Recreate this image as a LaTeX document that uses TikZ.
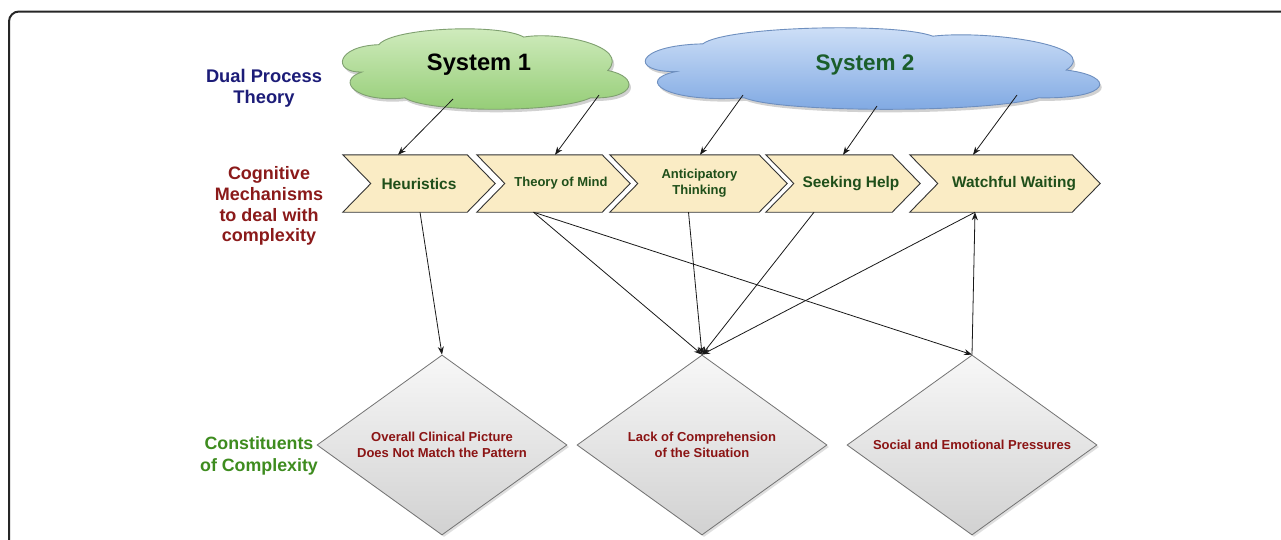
\documentclass[tikz,border=0pt]{standalone}
\usepackage{fontspec}
\setmainfont{Liberation Sans}
\usetikzlibrary{arrows.meta,shapes.geometric,shadows}
\definecolor{navyc}{HTML}{1C1C78}
\definecolor{dredc}{HTML}{8B1A1A}
\definecolor{greenc}{HTML}{3E8C1F}
\definecolor{chevtxt}{HTML}{1F4F1A}
\definecolor{diatxt}{HTML}{8B1414}
\definecolor{sys2txt}{HTML}{1B5E2B}
\definecolor{chevfill}{HTML}{FAECC5}
\definecolor{gtop}{HTML}{D3EDC1}
\definecolor{gbot}{HTML}{93CC74}
\definecolor{gline}{HTML}{7FA070}
\definecolor{btop}{HTML}{D2E2F8}
\definecolor{bbot}{HTML}{7DA7E2}
\definecolor{bline}{HTML}{6E8FBF}
\def\cloudshape{(0.072,0.54) .. controls (-0.03,0.55) and (-0.02,0.2) .. (0.13,0.18)
 .. controls (0.18,-0.05) and (0.55,-0.1) .. (0.63,0.08)
 .. controls (0.75,0.0) and (1.0,0.2) .. (0.92,0.52)
 .. controls (1.03,0.6) and (1.02,0.9) .. (0.86,0.88)
 .. controls (0.75,1.08) and (0.3,1.08) .. (0.22,0.88)
 .. controls (0.05,0.95) and (-0.02,0.65) .. (0.072,0.54) -- cycle}
\newcommand\chevdraw[1]{\filldraw[chevline] (#1.north west) -- ([xshift=-28pt]#1.north east) -- (#1.east) -- ([xshift=-28pt]#1.south east) -- (#1.south west) -- ([xshift=28pt]#1.west) -- cycle;}
\begin{document}
\begin{tikzpicture}[x=1pt,y=-1pt,
  lbl/.style={align=center, inner sep=0pt, font=\fontsize{18.3}{21.3}\selectfont\bfseries},
  chevbox/.style={rectangle, draw=none, minimum height=57pt, inner sep=0pt},
  chevline/.style={draw=black!80, fill=chevfill, line width=0.9pt, line join=miter},
  ctext/.style={align=center, inner sep=0pt, text=chevtxt},
  dia/.style={diamond, aspect=1.39, minimum width=250pt, minimum height=180pt, inner sep=0pt,
    draw=black!55, line width=0.8pt, top color=black!3, bottom color=black!18,
    drop shadow={shadow xshift=2pt, shadow yshift=-2pt, opacity=0.25},
    align=center, text=diatxt, font=\fontsize{13}{15.6}\selectfont\bfseries},
  arr/.style={-{Stealth[length=8pt,width=6pt]}, line width=0.8pt, black!90},
  cloudshadow/.style={fill=black, opacity=0.18}]
\useasboundingbox (0,0) rectangle (1281,539);
\clip (0,0) rectangle (1281,539);
\fill[white] (0,0) rectangle (1281,539);
% frame
\draw[line width=2pt, black!85, rounded corners=10pt] (9,600) -- (9,11.5) -- (1300,11.5);

% clouds
\begin{scope}[shift={(343,34)}, xscale=290, yscale=76]
  \path[cloudshadow] \cloudshape;
\end{scope}
\begin{scope}[shift={(341,31)}, xscale=290, yscale=76]
  \path[draw=gline, line width=0.9pt, top color=gtop, bottom color=gbot] \cloudshape;
\end{scope}
\begin{scope}[shift={(645,33)}, xscale=460, yscale=77]
  \path[cloudshadow] \cloudshape;
\end{scope}
\begin{scope}[shift={(643,30)}, xscale=460, yscale=77]
  \path[draw=bline, line width=0.9pt, top color=btop, bottom color=bbot] \cloudshape;
\end{scope}
\node[font=\fontsize{23.7}{26}\selectfont\bfseries, text=black] (s1) at (479,65) {System 1};
\node[font=\fontsize{22.5}{26}\selectfont\bfseries, text=sys2txt] (s2) at (865,65) {System 2};
\coordinate (c1a) at (453,99);
\coordinate (c1b) at (599,95);
\coordinate (c2a) at (743,95);
\coordinate (c2b) at (877,106);
\coordinate (c2c) at (1017,95);

% left labels
\node[lbl, text=navyc] (dpt) at (264,88) {Dual Process\\Theory};
\node[lbl, text=dredc, font=\fontsize{18}{20.7}\selectfont\bfseries] (cog) at (269,206) {Cognitive\\Mechanisms\\to deal with\\complexity};
\node[lbl, text=greenc, font=\fontsize{17.8}{22}\selectfont\bfseries] (con) at (259,456) {Constituents\\of Complexity};

% chevrons
\node[chevbox, minimum width=152pt] (heur) at (419,183.5) {};
\node[chevbox, minimum width=153pt] (tom) at (553.5,183.5) {};
\node[chevbox, minimum width=177pt] (antic) at (698.5,183.5) {};
\node[chevbox, minimum width=154pt] (seek) at (843,183.5) {};
\node[chevbox, minimum width=190pt] (watch) at (1005,183.5) {};
\chevdraw{heur}
\chevdraw{tom}
\chevdraw{antic}
\chevdraw{seek}
\chevdraw{watch}
\node[ctext, font=\fontsize{15.5}{18}\selectfont\bfseries] (heurt) at (419,183.5) {Heuristics};
\node[ctext, font=\fontsize{13}{15.6}\selectfont\bfseries] (tomt) at (561,183.5) {Theory of Mind};
\node[ctext, font=\fontsize{13}{15.7}\selectfont\bfseries] (antict) at (699.5,183) {Anticipatory\\Thinking};
\node[ctext, font=\fontsize{15.4}{18}\selectfont\bfseries] (seekt) at (851,183.5) {Seeking Help};
\node[ctext, font=\fontsize{15.4}{18}\selectfont\bfseries] (watcht) at (1014,183.5) {Watchful Waiting};

% diamonds
\node[dia] (d1) at (442,445) {Overall Clinical Picture\\Does Not Match the Pattern};
\node[dia] (d2) at (702,445) {Lack of Comprehension\\of the Situation};
\node[dia] (d3) at (972,445) {Social and Emotional Pressures};

% arrows from clouds
\draw[arr] (c1a) -- ([xshift=-21pt]heur.north);
\draw[arr] (c1b) -- ([xshift=1.5pt]tom.north);
\draw[arr] (c2a) -- ([xshift=1.5pt]antic.north);
\draw[arr] (c2b) -- (seek.north);
\draw[arr] (c2c) -- ([xshift=-32pt]watch.north);
% arrows to constituents
\draw[arr] ([xshift=1pt]heur.south) -- (d1.north);
\draw[arr] ([xshift=-20pt]tom.south) -- (d2.north);
\draw[arr] ([xshift=-20pt]tom.south) -- (d3.north);
\draw[arr] ([xshift=-10pt]antic.south) -- (d2.north);
\draw[arr] ([xshift=-29pt]seek.south) -- (d2.north);
\draw[arr] ([xshift=-30pt]watch.south) -- (d2.north);
\draw[arr] (d3.north) -- ([xshift=-30pt]watch.south);
\end{tikzpicture}
\end{document}
